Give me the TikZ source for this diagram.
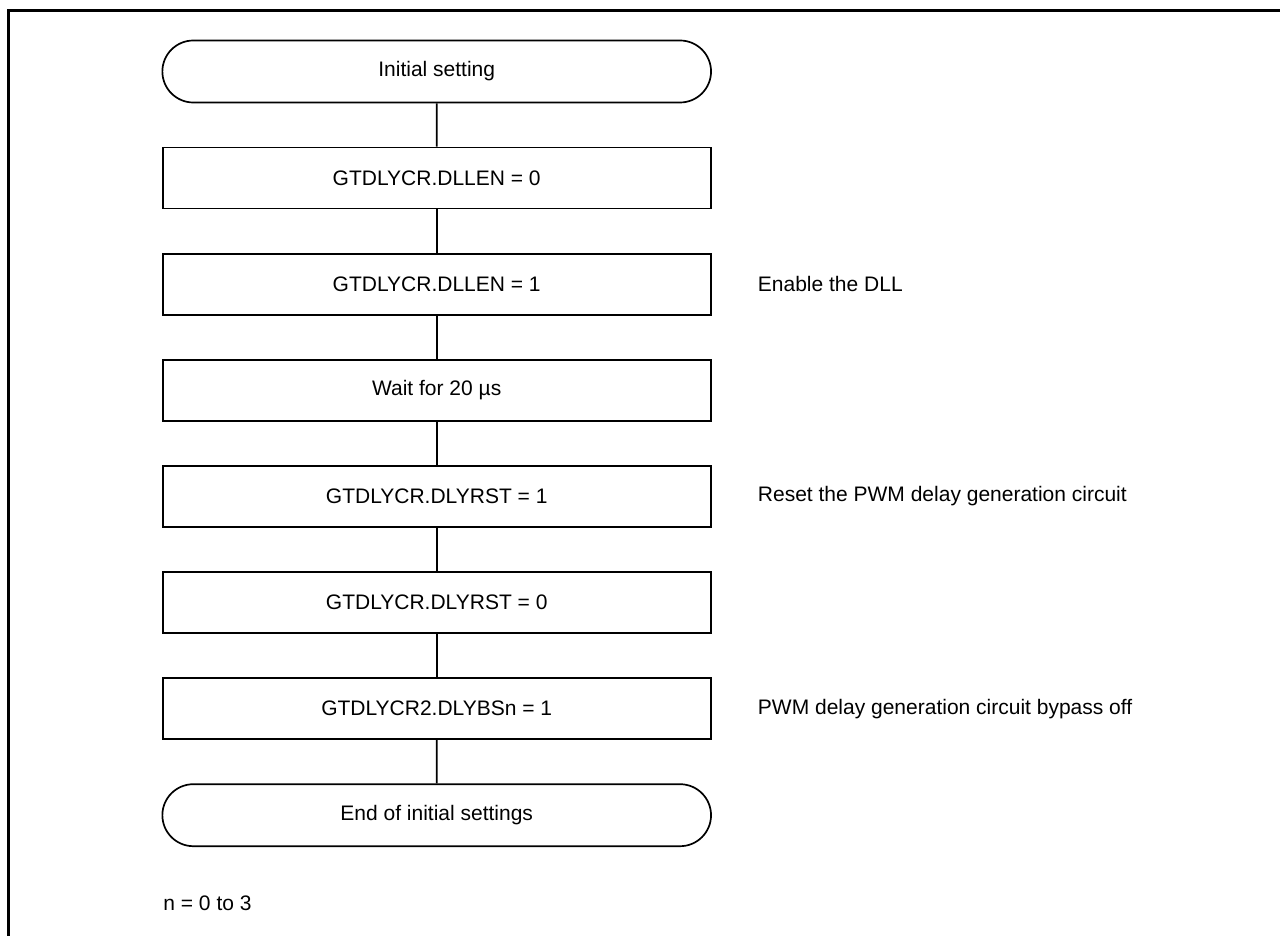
\documentclass[tikz,border=0pt]{standalone}
\usepackage{fontspec}
\setmainfont{Liberation Sans}
\usetikzlibrary{shapes.misc, positioning}

\begin{document}
\begin{tikzpicture}[
    x=0.5pt, y=-0.5pt,
    node distance=21.7pt,
    terminal/.style={rounded rectangle, minimum width=281pt, minimum height=31pt, text centered, font=\fontsize{10.5}{12.6}\selectfont, draw=black, line width=0.85pt},
    process/.style={rectangle, minimum width=274pt, minimum height=30.5pt, text centered, font=\fontsize{10.5}{12.6}\selectfont, draw=black, line width=0.85pt},
    remark/.style={inner sep=0pt, anchor=west, font=\fontsize{10.5}{12.6}\selectfont},
    link/.style={line width=0.85pt, black},
    frameline/.style={line width=1.5pt, black},
]

\useasboundingbox (0,0) rectangle (1280,936);
\draw[frameline] (8.5,936) -- (8.5,10.5) -- (1280,10.5);

\node[terminal] (start) at (436.7,71.5) {Initial setting};

\node[process, below=of start] (dllenoff) {GTDLYCR.DLLEN = 0};
\node[process, below=of dllenoff] (dllenon) {GTDLYCR.DLLEN = 1};
\node[process, below=of dllenon] (wait) {Wait for 20 µs};
\node[process, below=of wait] (rstset) {GTDLYCR.DLYRST = 1};
\node[process, below=of rstset] (rstclr) {GTDLYCR.DLYRST = 0};
\node[process, below=of rstclr] (bypass) {GTDLYCR2.DLYBSn = 1};

\node[terminal, below=of bypass] (finish) {End of initial settings};

\node[remark, right=23pt of dllenon] (dllnote) {Enable the DLL};
\node[remark, right=23pt of rstset] (rstnote) {Reset the PWM delay generation circuit};
\node[remark, right=23pt of bypass] (bypassnote) {PWM delay generation circuit bypass off};

\node[remark] (nrange) at (163,903) {n = 0 to 3};

\draw[link] (start) -- (dllenoff);
\draw[link] (dllenoff) -- (dllenon);
\draw[link] (dllenon) -- (wait);
\draw[link] (wait) -- (rstset);
\draw[link] (rstset) -- (rstclr);
\draw[link] (rstclr) -- (bypass);
\draw[link] (bypass) -- (finish);

\end{tikzpicture}
\end{document}
